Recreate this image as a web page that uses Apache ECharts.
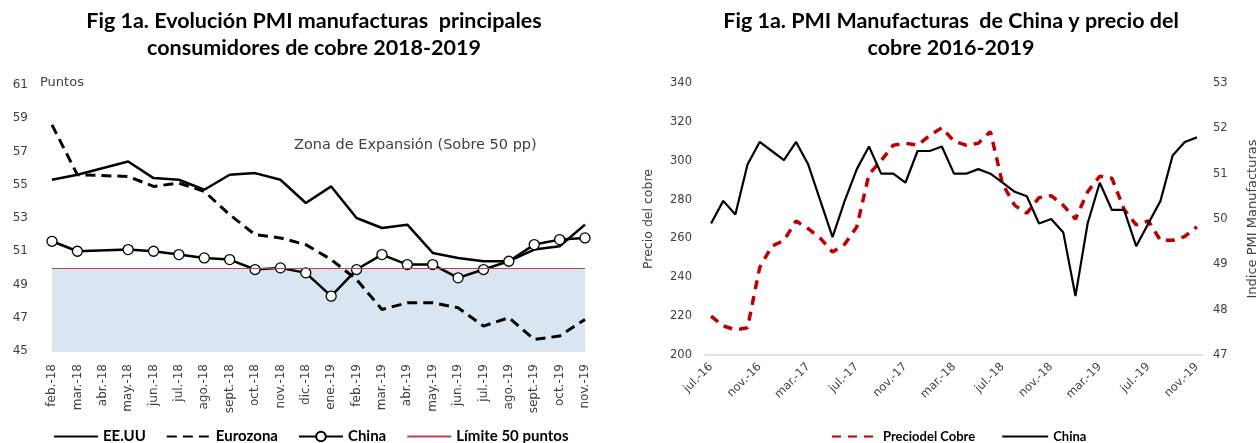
<!DOCTYPE html>
<html>
<head>
<meta charset="utf-8">
<script src="https://cdn.jsdelivr.net/npm/echarts@6/dist/echarts.min.js"></script>
<style>
  html, body { margin: 0; padding: 0; background: #fff; }
  #chart { width: 1260px; height: 443px; }
</style>
</head>
<body>
<div id="chart"></div>
<script>
// ======================
// DATA - left chart (PMI 2018-2019)
// ======================
const pmiMonths = [
  'feb.-18', 'mar.-18', 'abr.-18', 'may.-18', 'jun.-18', 'jul.-18', 'ago.-18', 'sept.-18',
  'oct.-18', 'nov.-18', 'dic.-18', 'ene.-19', 'feb.-19', 'mar.-19', 'abr.-19', 'may.-19',
  'jun.-19', 'jul.-19', 'ago.-19', 'sept.-19', 'oct.-19', 'nov.-19'
];
const usaPmi = [55.3, 55.6, null, 56.4, 55.4, 55.3, 54.7, 55.6, 55.7, 55.3, 53.9,
  54.9, 53.0, 52.4, 52.6, 50.9, 50.6, 50.4, 50.4, 51.1, 51.3, 52.6];
const euroPmi = [58.6, 55.6, null, 55.5, 54.9, 55.1, 54.6, 53.2, 52.0, 51.8, 51.4,
  50.5, 49.3, 47.5, 47.9, 47.9, 47.6, 46.5, 47.0, 45.7, 45.9, 46.9];
const chinaPmi = [51.6, 51.0, null, 51.1, 51.0, 50.8, 50.6, 50.5, 49.9, 50.0, 49.7,
  48.3, 49.9, 50.8, 50.2, 50.2, 49.4, 49.9, 50.4, 51.4, 51.7, 51.8];
const limitLevel = 50;
const pmiFloor = 45;

// ======================
// DATA - right chart (China PMI vs copper 2016-2019)
// ======================
const copperMonths = [
  'jul.-16', 'ago.-16', 'sept.-16', 'oct.-16', 'nov.-16', 'dic.-16',
  'ene.-17', 'feb.-17', 'mar.-17', 'abr.-17', 'may.-17', 'jun.-17', 'jul.-17', 'ago.-17', 'sept.-17', 'oct.-17', 'nov.-17', 'dic.-17',
  'ene.-18', 'feb.-18', 'mar.-18', 'abr.-18', 'may.-18', 'jun.-18', 'jul.-18', 'ago.-18', 'sept.-18', 'oct.-18', 'nov.-18', 'dic.-18',
  'ene.-19', 'feb.-19', 'mar.-19', 'abr.-19', 'may.-19', 'jun.-19', 'jul.-19', 'ago.-19', 'sept.-19', 'oct.-19', 'nov.-19'
];
const copperPrice = [220, 215, 213, 214, 245, 256, 259, 269, 265, 260, 253, 257, 266, 293,
  300, 308, 309, 308, 313, 317, 310, 308, 309, 315, 288, 277, 273, 281, 282, 277,
  270, 284, 292, 291, 275, 267, 269, 259, 259, 261, 266];
const chinaPmiLong = [49.9, 50.4, 50.1, 51.2, 51.7, 51.5, 51.3, 51.7, 51.2, 50.4, 49.6, 50.4,
  51.1, 51.6, 51.0, 51.0, 50.8, 51.5, 51.5, 51.6, 51.0, 51.0, 51.1, 51.0, 50.8, 50.6,
  50.5, 49.9, 50.0, 49.7, 48.3, 49.9, 50.8, 50.2, 50.2, 49.4, 49.9, 50.4, 51.4, 51.7, 51.8];

// ======================
// STYLE
// ======================
const tickFont = 'DejaVu Sans, sans-serif';
const titleFont = 'Lato, sans-serif';
const tickColor = '#404040';
const axisGray = '#d9d9d9';
const noSymbol = { itemStyle: { opacity: 0 } };

const chart = echarts.init(document.getElementById('chart'), null, { renderer: 'canvas' });

const option = {
  animation: false,
  backgroundColor: '#fff',
  grid: [
    { left: 52, top: 85, width: 533, height: 266 },
    { left: 705, top: 83, width: 502, height: 272 },
  ],
  xAxis: [
    {
      gridIndex: 0,
      type: 'category',
      data: pmiMonths,
      boundaryGap: false,
      axisLine: { lineStyle: { color: axisGray, width: 1.5 } },
      axisTick: { show: false },
      axisLabel: {
        rotate: 90, margin: 13, interval: 0,
        color: tickColor, fontSize: 12, fontFamily: tickFont,
      },
    },
    {
      gridIndex: 1,
      type: 'category',
      data: copperMonths,
      axisLine: { lineStyle: { color: axisGray, width: 1.5 } },
      axisTick: { show: false },
      axisLabel: {
        rotate: 45, margin: 10, interval: 3,
        color: tickColor, fontSize: 11.5, fontFamily: tickFont,
      },
    },
  ],
  yAxis: [
    {
      gridIndex: 0,
      type: 'value',
      min: 45, max: 61, interval: 2,
      axisLine: { show: false },
      axisTick: { show: false },
      splitLine: { show: false },
      axisLabel: { color: tickColor, fontSize: 12, fontFamily: tickFont, margin: 24 },
    },
    {
      gridIndex: 1,
      type: 'value',
      min: 200, max: 340, interval: 20,
      name: 'Precio del cobre',
      nameLocation: 'middle',
      nameGap: 50,
      nameTextStyle: { color: tickColor, fontSize: 12.5, fontFamily: tickFont },
      axisLine: { show: false },
      axisTick: { show: false },
      splitLine: { show: false },
      axisLabel: { color: tickColor, fontSize: 11.5, fontFamily: tickFont, margin: 13 },
    },
    {
      gridIndex: 1,
      type: 'value',
      position: 'right',
      min: 47, max: 53, interval: 1,
      name: 'Indice PMI Manufacturas',
      nameLocation: 'middle',
      nameRotate: 90,
      nameGap: 43,
      nameTextStyle: { color: tickColor, fontSize: 13, fontFamily: tickFont },
      axisLine: { show: false },
      axisTick: { show: false },
      splitLine: { show: false },
      axisLabel: { color: tickColor, fontSize: 11.5, fontFamily: tickFont, margin: 10 },
    },
  ],
  legend: [
    {
      left: 48, top: 424,
      itemWidth: 44, itemHeight: 12, itemGap: 20,
      textStyle: { fontFamily: titleFont, fontWeight: 'bold', fontSize: 15, color: '#000' },
      data: [
        { name: 'EE.UU', ...noSymbol },
        { name: 'Eurozona', ...noSymbol },
        { name: 'China' },
        { name: 'Límite 50 puntos', ...noSymbol },
      ],
    },
    {
      left: 826, top: 425,
      itemWidth: 46, itemHeight: 12, itemGap: 26,
      textStyle: { fontFamily: titleFont, fontWeight: 'bold', fontSize: 13, color: '#000' },
      data: [
        { name: 'Preciodel Cobre', ...noSymbol },
        { name: 'China ', ...noSymbol },
      ],
    },
  ],
  graphic: [
    {
      type: 'text', x: 314, y: 8,
      style: {
        text: 'Fig 1a. Evolución PMI manufacturas  principales\nconsumidores de cobre 2018-2019',
        font: 'bold 21.5px Lato, sans-serif', fill: '#000',
        textAlign: 'center', lineHeight: 27,
      },
    },
    {
      type: 'text', x: 951, y: 8,
      style: {
        text: 'Fig 1a. PMI Manufacturas  de China y precio del\ncobre 2016-2019',
        font: 'bold 21.5px Lato, sans-serif', fill: '#000',
        textAlign: 'center', lineHeight: 27,
      },
    },
    {
      type: 'text', x: 40, y: 76,
      style: { text: 'Puntos', font: '13px DejaVu Sans, sans-serif', fill: tickColor },
    },
    {
      type: 'text', x: 294, y: 138,
      style: { text: 'Zona de Expansión (Sobre 50 pp)', font: '14.5px DejaVu Sans, sans-serif', fill: tickColor },
    },
    {
      type: 'text', x: 58, y: 319,
      style: { text: 'Zona de desaceleración (bajo 50 pp)', font: '13.5px DejaVu Sans, sans-serif', fill: tickColor },
    },
  ],
  series: [
    {
      name: 'Límite 50 puntos',
      type: 'line',
      xAxisIndex: 0, yAxisIndex: 0,
      data: [],
      color: '#b5464e',
      lineStyle: { color: '#b5464e', width: 1 },
      symbol: 'none',
      z: 1,
      markArea: {
        silent: true,
        itemStyle: { color: '#dae5f2' },
        data: [[{ yAxis: pmiFloor }, { yAxis: limitLevel }]],
      },
      markLine: {
        silent: true,
        symbol: 'none',
        label: { show: false },
        lineStyle: { color: '#b5464e', type: 'solid', width: 1.2 },
        data: [{ yAxis: limitLevel }],
      },
    },
    {
      name: 'EE.UU',
      type: 'line',
      xAxisIndex: 0, yAxisIndex: 0,
      data: usaPmi,
      connectNulls: true,
      symbol: 'none',
      color: '#000',
      lineStyle: { color: '#000', width: 2.5 },
      z: 3,
    },
    {
      name: 'Eurozona',
      type: 'line',
      xAxisIndex: 0, yAxisIndex: 0,
      data: euroPmi,
      connectNulls: true,
      symbol: 'none',
      color: '#000',
      lineStyle: { color: '#000', width: 3, type: [10, 6] },
      z: 3,
    },
    {
      name: 'China',
      type: 'line',
      xAxisIndex: 0, yAxisIndex: 0,
      data: chinaPmi,
      connectNulls: true,
      symbol: 'circle',
      symbolSize: 10,
      showSymbol: true,
      color: '#000',
      lineStyle: { color: '#000', width: 2.5 },
      itemStyle: { color: '#fff', borderColor: '#000', borderWidth: 1.3 },
      z: 4,
    },
    {
      name: 'Preciodel Cobre',
      type: 'line',
      xAxisIndex: 1, yAxisIndex: 1,
      data: copperPrice,
      symbol: 'none',
      color: '#c00000',
      lineStyle: { color: '#c00000', width: 3.5, type: [9, 7] },
      z: 3,
    },
    {
      name: 'China ',
      type: 'line',
      xAxisIndex: 1, yAxisIndex: 2,
      data: chinaPmiLong,
      symbol: 'none',
      color: '#000',
      lineStyle: { color: '#000', width: 2.2 },
      z: 4,
    },
  ],
};

chart.setOption(option);
</script>
</body>
</html>
